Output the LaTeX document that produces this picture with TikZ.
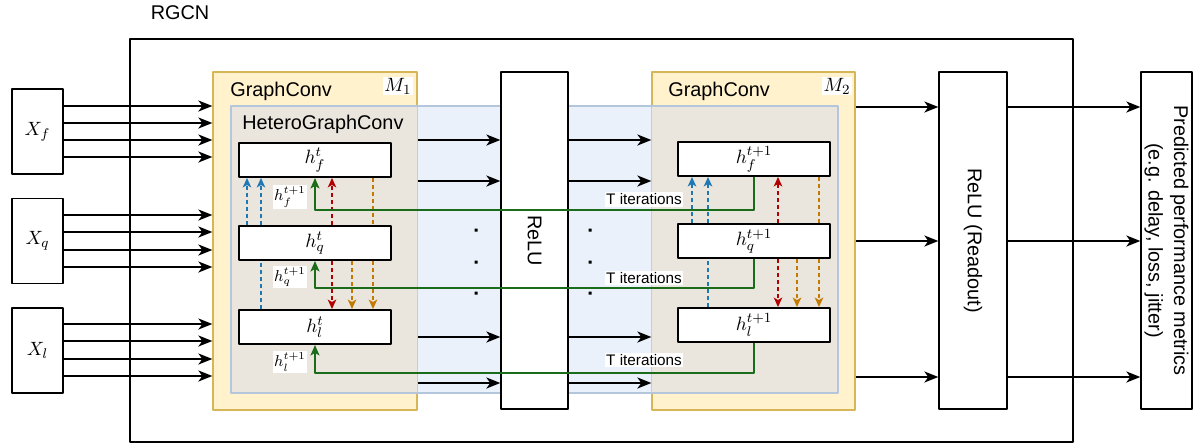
\documentclass[tikz,border=0pt]{standalone}
\usepackage[no-math]{fontspec}
\setmainfont{Liberation Sans}
\usetikzlibrary{arrows.meta,calc}
\definecolor{convfill}{HTML}{FFF2CC}
\definecolor{convline}{HTML}{D6B656}
\definecolor{heterofill}{HTML}{EAF1FB}
\definecolor{heteromix}{HTML}{EAE6DD}
\definecolor{heteroline}{HTML}{B4C6DC}
\definecolor{msgblue}{HTML}{1F77B4}
\definecolor{msgred}{HTML}{B20000}
\definecolor{msgorange}{HTML}{C47A00}
\definecolor{itergreen}{HTML}{1A6B1A}
\begin{document}
\begin{tikzpicture}[x=0.02cm,y=-0.02cm,line join=round,font=\fontsize{11.3}{14.5}\selectfont,
	box/.style={draw,fill=white,line width=0.75pt,inner sep=0pt},
	conv/.style={draw=convline,fill=convfill,line width=0.75pt,inner sep=0pt,minimum width=4.08cm,minimum height=6.76cm},
	hbox/.style={draw,fill=white,line width=1.1pt,inner sep=0pt,minimum width=3.04cm,minimum height=0.68cm,font=\fontsize{10.95}{13}\selectfont},
	xbox/.style={box,minimum width=1.02cm,minimum height=1.7cm,font=\fontsize{10.95}{13}\selectfont},
	tag/.style={fill=white,inner sep=0.8pt},
	flow/.style={>={Stealth[length=2.8mm,width=2.2mm,inset=0.8mm]},->,line width=1.1pt},
	msg/.style={>={Stealth[length=1.9mm,width=1.7mm,inset=0.5mm]},dash pattern=on 2.2pt off 1.8pt,line width=0.8pt},
	iter/.style={>={Stealth[length=2.1mm,width=1.8mm,inset=0.5mm]},->,draw=itergreen,line width=0.8pt}]
	\useasboundingbox (0,0) rectangle (1198,447);
	\node (rgcntext) at (180,13) {RGCN};
	\draw[line width=0.75pt] (130,39) rectangle (1073,442);
	\node[conv] (m1) at (315,241) {};
	\node[conv,minimum width=4.06cm] (m2) at (753.5,241) {};
	\fill[heterofill] (231,106) rectangle (838,393);
	\fill[heteromix] (231,106) rectangle (m1.east |- 0,393);
	\fill[heteromix] (m2.west |- 0,106) rectangle (838,393);
	\draw[convline,draw opacity=0.5,line width=0.75pt] (m1.east |- 0,106) -- (m1.east |- 0,393);
	\draw[convline,draw opacity=0.5,line width=0.75pt] (m2.west |- 0,106) -- (m2.west |- 0,393);
	\draw[heteroline,line width=0.9pt] (231,106) rectangle (838,393);
	\node[anchor=base west,inner sep=0pt] (gc1) at (230,96) {GraphConv};
	\node[anchor=base west,inner sep=0pt] (gc2) at (668,96) {GraphConv};
	\node[anchor=base west,inner sep=0pt] (hgc) at (242,129) {HeteroGraphConv};
	\node[tag,font=\fontsize{10.95}{13}\selectfont] (m1tag) at (398,86) {$M_1$};
	\node[tag,font=\fontsize{10.95}{13}\selectfont] (m2tag) at (837,86) {$M_2$};
	\node[box,minimum width=1.34cm,minimum height=6.74cm] (relu) at (534.5,240.5) {};
	\node[rotate=-90] (relutext) at (relu) {ReLU};
	\node[box,minimum width=1.36cm,minimum height=6.74cm] (readout) at (973,240.5) {};
	\node[rotate=-90] (readtext) at (readout) {ReLU (Readout)};
	\node[box,minimum width=1.02cm,minimum height=6.74cm] (pred) at (1166.5,240.5) {};
	\node[rotate=-90,align=center] (predtext) at (pred) {Predicted performance metrics\\(e.g. delay, loss, jitter)};
	\node[xbox] (xf) at (37.5,131.5) {$X_f$};
	\node[xbox] (xq) at (37.5,241) {$X_q$};
	\node[xbox] (xl) at (37.5,350.5) {$X_l$};
	\node[hbox] (hfA) at (315,160) {$h^t_f$};
	\node[hbox] (hqA) at (315,243) {$h^t_q$};
	\node[hbox] (hlA) at (315,327) {$h^t_l$};
	\node[hbox] (hfB) at (754,159) {$h^{t+1}_f$};
	\node[hbox] (hqB) at (754,241) {$h^{t+1}_q$};
	\node[hbox] (hlB) at (754,325) {$h^{t+1}_l$};
	\draw[flow] (xf.east |- 0,106) -- (m1.west |- 0,106);
	\draw[flow] (xf.east |- 0,123) -- (m1.west |- 0,123);
	\draw[flow] (xf.east |- 0,140) -- (m1.west |- 0,140);
	\draw[flow] (xf.east |- 0,157) -- (m1.west |- 0,157);
	\draw[flow] (xq.east |- 0,215) -- (m1.west |- 0,215);
	\draw[flow] (xq.east |- 0,232) -- (m1.west |- 0,232);
	\draw[flow] (xq.east |- 0,250) -- (m1.west |- 0,250);
	\draw[flow] (xq.east |- 0,267) -- (m1.west |- 0,267);
	\draw[flow] (xl.east |- 0,324) -- (m1.west |- 0,324);
	\draw[flow] (xl.east |- 0,341) -- (m1.west |- 0,341);
	\draw[flow] (xl.east |- 0,359) -- (m1.west |- 0,359);
	\draw[flow] (xl.east |- 0,376) -- (m1.west |- 0,376);
	\draw[flow] (m1.east |- 0,140) -- (relu.west |- 0,140);
	\draw[flow] (m1.east |- 0,181) -- (relu.west |- 0,181);
	\draw[flow] (m1.east |- 0,337) -- (relu.west |- 0,337);
	\draw[flow] (m1.east |- 0,383) -- (relu.west |- 0,383);
	\draw[flow] (relu.east |- 0,140) -- (m2.west |- 0,140);
	\draw[flow] (relu.east |- 0,181) -- (m2.west |- 0,181);
	\draw[flow] (relu.east |- 0,337) -- (m2.west |- 0,337);
	\draw[flow] (relu.east |- 0,383) -- (m2.west |- 0,383);
	\draw[flow] (m2.east |- 0,107) -- (readout.west |- 0,107);
	\draw[flow] (m2.east |- 0,241) -- (readout.west |- 0,241);
	\draw[flow] (m2.east |- 0,377) -- (readout.west |- 0,377);
	\draw[flow] (readout.east |- 0,107) -- (pred.west |- 0,107);
	\draw[flow] (readout.east |- 0,241) -- (pred.west |- 0,241);
	\draw[flow] (readout.east |- 0,377) -- (pred.west |- 0,377);
	\fill (474.5,228.5) rectangle ++(3,3) (474.5,260.5) rectangle ++(3,3) (474.5,291.5) rectangle ++(3,3);
	\fill (588.5,228.5) rectangle ++(3,3) (588.5,260.5) rectangle ++(3,3) (588.5,291.5) rectangle ++(3,3);
	\draw[msg,msgblue,->] ($(hqA.north)+(-68,0)$) -- ($(hfA.south)+(-68,0)$);
	\draw[msg,msgblue] ($(hlA.north)+(-54,0)$) -- ($(hqA.south)+(-54,0)$);
	\draw[msg,msgblue,->] ($(hqA.north)+(-54,0)$) -- ($(hfA.south)+(-54,0)$);
	\draw[msg,msgred,->] ($(hqA.north)+(17,0)$) -- ($(hfA.south)+(17,0)$);
	\draw[msg,msgred,->] ($(hqA.south)+(17,0)$) -- ($(hlA.north)+(17,0)$);
	\draw[msg,msgorange,->] ($(hqA.south)+(37,0)$) -- ($(hlA.north)+(37,0)$);
	\draw[msg,msgorange] ($(hfA.south)+(58,0)$) -- ($(hqA.north)+(58,0)$);
	\draw[msg,msgorange,->] ($(hqA.south)+(58,0)$) -- ($(hlA.north)+(58,0)$);
	\draw[msg,msgblue,->] ($(hqB.north)+(-62,0)$) -- ($(hfB.south)+(-62,0)$);
	\draw[msg,msgblue] ($(hlB.north)+(-46,0)$) -- ($(hqB.south)+(-46,0)$);
	\draw[msg,msgblue,->] ($(hqB.north)+(-46,0)$) -- ($(hfB.south)+(-46,0)$);
	\draw[msg,msgred,->] ($(hqB.north)+(24,0)$) -- ($(hfB.south)+(24,0)$);
	\draw[msg,msgred,->] ($(hqB.south)+(24,0)$) -- ($(hlB.north)+(24,0)$);
	\draw[msg,msgorange,->] ($(hqB.south)+(43,0)$) -- ($(hlB.north)+(43,0)$);
	\draw[msg,msgorange] ($(hfB.south)+(65,0)$) -- ($(hqB.north)+(65,0)$);
	\draw[msg,msgorange,->] ($(hqB.south)+(65,0)$) -- ($(hlB.north)+(65,0)$);
	\draw[iter] (hfB.south) -- (hfB.south |- 0,210) -- (hfA.south |- 0,210) -- (hfA.south);
	\draw[iter] (hqB.south) -- (hqB.south |- 0,288) -- (hqA.south |- 0,288) -- (hqA.south);
	\draw[iter] (hlB.south) -- (hlB.south |- 0,373) -- (hlA.south |- 0,373) -- (hlA.south);
	\node[tag,font=\fontsize{8.7}{10}\selectfont] (iter1) at (644,199.5) {T iterations};
	\node[tag,font=\fontsize{8.7}{10}\selectfont] (iter2) at (644,278) {T iterations};
	\node[tag,font=\fontsize{8.7}{10}\selectfont] (iter3) at (644,360) {T iterations};
	\node[tag,font=\fontsize{9}{11}\selectfont] (hfnext) at (290,197) {$h^{t+1}_f$};
	\node[tag,font=\fontsize{9}{11}\selectfont] (hqnext) at (290,277) {$h^{t+1}_q$};
	\node[tag,font=\fontsize{9}{11}\selectfont] (hlnext) at (290,362) {$h^{t+1}_l$};
\end{tikzpicture}
\end{document}
